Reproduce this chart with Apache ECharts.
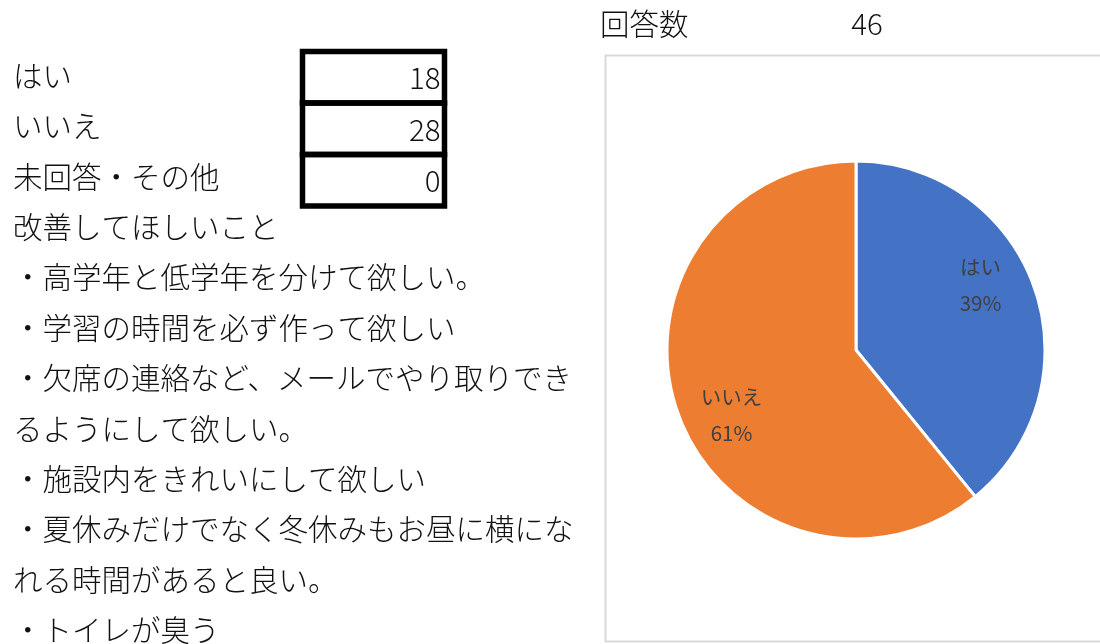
<!DOCTYPE html>
<html>
<head>
<meta charset="utf-8">
<script src="https://cdn.jsdelivr.net/npm/echarts@6/dist/echarts.min.js"></script>
<style>
html,body{margin:0;padding:0;background:#fff;}
#main{width:1100px;height:644px;}
</style>
</head>
<body>
<div id="main"></div>
<script>
// ---- data ----
const pieCategories = ['はい', 'いいえ'];
const pieValues = [18, 28];
const tableLabels = ['はい', 'いいえ', '未回答・その他'];
const tableCounts = [18, 28, 0];
const totalLabel = '回答数';
const totalCount = 46;
const commentsTitle = '改善してほしいこと';
const commentLines = [
  '・高学年と低学年を分けて欲しい。',
  '・学習の時間を必ず作って欲しい',
  '・欠席の連絡など、メールでやり取りでき',
  'るようにして欲しい。',
  '・施設内をきれいにして欲しい',
  '・夏休みだけでなく冬休みもお昼に横にな',
  'れる時間があると良い。',
  '・トイレが臭う'
];

// ---- layout/style ----
const FONT = '"Noto Sans CJK JP", "Noto Sans", sans-serif';
const textFont = '300 29.5px ' + FONT;
const leftX = 13;
const firstRowY = 75.5;
const rowStep = 50.4;
const colors = ['#4472C4', '#ED7D31'];

const chart = echarts.init(document.getElementById('main'), null, {renderer: 'canvas'});

const graphics = [];
function txt(s, x, y, align) {
  graphics.push({
    type: 'text', x: x, y: y, silent: true,
    style: {text: s, font: textFont, fill: '#111', align: align || 'left', verticalAlign: 'middle'}
  });
}
// left rows
const allLeft = tableLabels.concat([commentsTitle], commentLines);
allLeft.forEach((s, i) => txt(s, leftX, firstRowY + i * rowStep));
// table cells
const cellX = 302.5, cellW = 142, cellTop = 51.5, cellH = 51.5;
tableCounts.forEach((v, i) => {
  graphics.push({
    type: 'rect', silent: true,
    shape: {x: cellX, y: cellTop + i * cellH, width: cellW, height: cellH},
    style: {fill: 'none', stroke: '#000', lineWidth: 5.5}
  });
  txt(String(v), cellX + cellW - 4, cellTop + i * cellH + cellH / 2 + 1, 'right');
});
// total
txt(totalLabel, 600, 24);
txt(String(totalCount), 867, 24, 'center');
// chart frame
graphics.push({
  type: 'rect', silent: true, z: -1,
  shape: {x: 605.5, y: 55.5, width: 600, height: 586},
  style: {fill: '#fff', stroke: '#d9d9d9', lineWidth: 2}
});

const pieData = pieCategories.map((c, i) => ({name: c, value: pieValues[i], itemStyle: {color: colors[i]}}));

chart.setOption({
  animation: false,
  backgroundColor: '#fff',
  graphic: graphics,
  series: [
    {
      type: 'pie',
      center: [856, 350],
      radius: [0, 189],
      startAngle: 90,
      clockwise: true,
      silent: true,
      itemStyle: {borderColor: '#fff', borderWidth: 3},
      label: {show: false},
      labelLine: {show: false},
      emphasis: {disabled: true},
      data: pieData
    },
    {
      type: 'pie',
      center: [856, 350],
      radius: [86, 189],
      startAngle: 98,
      clockwise: true,
      silent: true,
      z: 5,
      itemStyle: {color: 'transparent', borderWidth: 0},
      label: {
        show: true,
        position: 'inside',
        formatter: p => p.name + '\n' + Math.round(p.percent) + '%',
        fontFamily: FONT,
        fontSize: 20.5,
        lineHeight: 36,
        color: '#404040'
      },
      labelLine: {show: false},
      emphasis: {disabled: true},
      data: pieCategories.map((c, i) => ({name: c, value: pieValues[i], itemStyle: {color: 'transparent'}}))
    }
  ]
});
</script>
</body>
</html>
